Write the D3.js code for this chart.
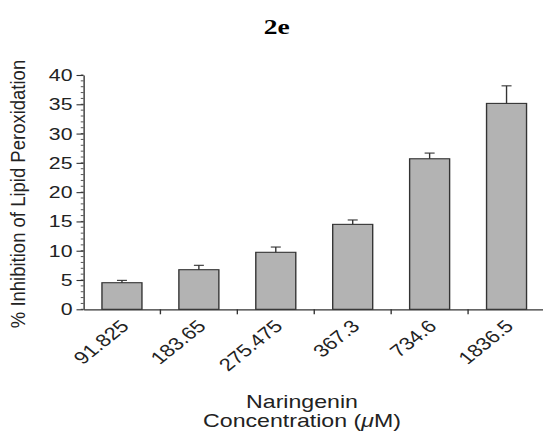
<!DOCTYPE html>
<html>
<head>
<meta charset="utf-8">
<script src="https://cdn.jsdelivr.net/npm/d3@7"></script>
<style>
  html, body { margin: 0; padding: 0; background: #fff; }
  svg { display: block; }
</style>
</head>
<body>
<script>
// ---- data ----
const categories = ["91.825", "183.65", "275.475", "367.3", "734.6", "1836.5"];
const means = [4.54, 6.76, 9.73, 14.5, 25.7, 35.15];
const errors = [0.4, 0.75, 0.9, 0.75, 0.97, 3.0];
const yTicks = [0, 5, 10, 15, 20, 25, 30, 35, 40];
const yMinorTicks = d3.range(0, 41, 1);
const chartTitle = "2e";
const yTitle = "% Inhibition of Lipid Peroxidation";
const xTitleLine1 = "Naringenin";

// ---- layout (the reference is horizontally stretched) ----
const W = 543, H = 431, S = 1.25;
const VW = W / S;
const X0 = 83.5 / S, X1 = 545 / S;
const Y0 = 309.3, Y1 = 75;

const svg = d3.select("body").append("svg")
  .attr("width", W).attr("height", H)
  .attr("viewBox", `0 0 ${VW} ${H}`)
  .attr("preserveAspectRatio", "none");

const font = "'Liberation Sans', Arial, Helvetica, sans-serif";
const ink = "#222";

const x = d3.scaleBand().domain(categories).range([X0, X1])
  .paddingInner(0.48).paddingOuter(0.24);
const y = d3.scaleLinear().domain([0, 40]).range([Y0, Y1]);

// title
svg.append("text")
  .attr("x", 276.7 / S).attr("y", 34)
  .attr("text-anchor", "middle")
  .attr("font-family", "'Liberation Serif', 'Times New Roman', serif")
  .attr("font-weight", "bold").attr("font-size", 22)
  .attr("fill", "#000").text(chartTitle);

// minor y ticks
svg.append("g").selectAll("line").data(yMinorTicks).join("line")
  .attr("x1", X0 - 2.2).attr("x2", X0)
  .attr("y1", d => y(d)).attr("y2", d => y(d))
  .attr("stroke", "#444").attr("stroke-width", 0.8);

// y axis
const yAxis = svg.append("g").attr("transform", `translate(${X0},0)`)
  .call(d3.axisLeft(y).tickValues(yTicks).tickSize(5.6).tickSizeOuter(0).tickPadding(3.2));
yAxis.select(".domain").attr("stroke", "#333").attr("stroke-width", 1.1);
yAxis.selectAll(".tick line").attr("stroke", "#333").attr("stroke-width", 1.1);
yAxis.selectAll("text").attr("font-family", font).attr("font-size", 17).attr("fill", ink);

// bars
svg.append("g").selectAll("rect").data(categories).join("rect")
  .attr("x", d => x(d)).attr("width", x.bandwidth())
  .attr("y", (d, i) => y(means[i])).attr("height", (d, i) => y(0) - y(means[i]))
  .attr("fill", "#b3b3b3").attr("stroke", "#333").attr("stroke-width", 1.1);

// error bars (upper only)
const eg = svg.append("g").attr("stroke", "#333").attr("stroke-width", 1.1);
eg.selectAll("line.v").data(categories).join("line").attr("class", "v")
  .attr("x1", d => x(d) + x.bandwidth() / 2).attr("x2", d => x(d) + x.bandwidth() / 2)
  .attr("y1", (d, i) => y(means[i])).attr("y2", (d, i) => y(means[i] + errors[i]));
eg.selectAll("line.c").data(categories).join("line").attr("class", "c")
  .attr("x1", d => x(d) + x.bandwidth() / 2 - 4).attr("x2", d => x(d) + x.bandwidth() / 2 + 4)
  .attr("y1", (d, i) => y(means[i] + errors[i])).attr("y2", (d, i) => y(means[i] + errors[i]));

// x axis
const xAxis = svg.append("g").attr("transform", `translate(0,${Y0})`)
  .call(d3.axisBottom(x).tickSize(0).tickSizeOuter(0).tickPadding(0));
xAxis.select(".domain").attr("stroke", "#333").attr("stroke-width", 1.2);
xAxis.selectAll(".tick text")
  .attr("font-family", font).attr("font-size", 17.5).attr("fill", ink)
  .attr("text-anchor", "end")
  .attr("dy", 0)
  .attr("transform", "translate(6.5,18) rotate(-45)");
// boundary ticks between categories
const step = x.step();
svg.append("g").selectAll("line").data(categories.slice(0, -1)).join("line")
  .attr("x1", d => x(d) + x.bandwidth() + (step - x.bandwidth()) / 2)
  .attr("x2", d => x(d) + x.bandwidth() + (step - x.bandwidth()) / 2)
  .attr("y1", Y0).attr("y2", Y0 + 5)
  .attr("stroke", "#333").attr("stroke-width", 1.1);

// y title (less stretched in the reference)
svg.append("text")
  .attr("transform", `translate(${25 / S},${194}) scale(0.9,1) rotate(-90)`)
  .attr("text-anchor", "middle")
  .attr("font-family", font).attr("font-size", 18.5).attr("fill", ink)
  .text(yTitle);

// x title
const xt = svg.append("text")
  .attr("text-anchor", "middle")
  .attr("font-family", font).attr("font-size", 18.5).attr("fill", ink);
xt.append("tspan").attr("x", 302 / S).attr("y", 408.3).text(xTitleLine1);
const l2 = xt.append("tspan").attr("x", 302 / S).attr("y", 427);
l2.append("tspan").text("Concentration (");
l2.append("tspan").attr("font-style", "italic").text("\u03BC");
l2.append("tspan").text("M)");
</script>
</body>
</html>
